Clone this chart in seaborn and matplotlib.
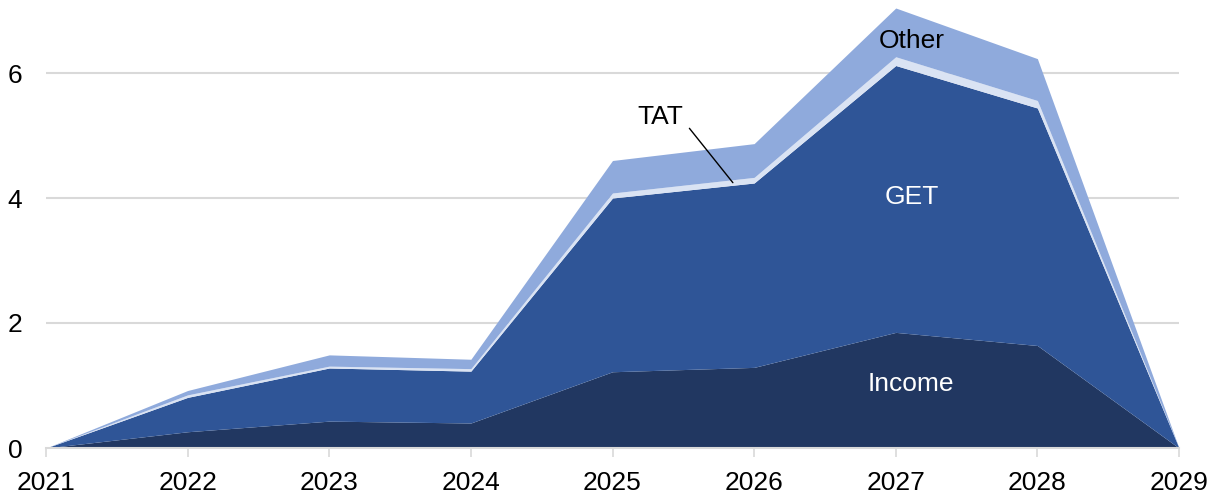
import matplotlib
matplotlib.use("Agg")
import matplotlib.pyplot as plt
import seaborn as sns
import numpy as np

years = [2021, 2022, 2023, 2024, 2025, 2026, 2027, 2028, 2029]
income = [0, 0.26, 0.43, 0.40, 1.22, 1.29, 1.85, 1.64, 0]
get_ = [0, 0.55, 0.85, 0.83, 2.78, 2.95, 4.27, 3.80, 0]
tat = [0, 0.04, 0.03, 0.04, 0.08, 0.09, 0.14, 0.12, 0]
other = [0, 0.07, 0.18, 0.15, 0.52, 0.54, 0.78, 0.67, 0]
series_names = ["Income", "GET", "TAT", "Other"]
colors = ["#213761", "#2F5597", "#DAE3F3", "#8FAADC"]
y_ticks = [0, 2, 4, 6]

sns.set_theme(style="white")
plt.rcParams["font.family"] = ["Liberation Sans", "DejaVu Sans"]

fig = plt.figure(figsize=(12.17, 5.01), dpi=100)
ax = fig.add_axes([46 / 1217, 1 - 448 / 501, (1179 - 46) / 1217, 446 / 501])

ax.stackplot(years, income, get_, tat, other, colors=colors, labels=series_names,
             linewidth=0, zorder=3)

ax.set_xlim(2021, 2029)
ax.set_ylim(0, 446 / 62.5)
ax.set_yticks(y_ticks)
ax.set_yticklabels([str(t) for t in y_ticks])
ax.set_xticks(years)
ax.set_xticklabels([str(y) for y in years])

for y in y_ticks[1:]:
    ax.axhline(y, color="#D9D9D9", lw=1.5, zorder=1)

for s in ["top", "right", "left"]:
    ax.spines[s].set_visible(False)
ax.spines["bottom"].set_color("#D9D9D9")
ax.spines["bottom"].set_linewidth(1.5)
ax.spines["bottom"].set_zorder(4)

fs = 19
ax.tick_params(axis="x", which="major", bottom=True, length=6.5, width=1.2,
               color="#D9D9D9", pad=10, labelsize=fs, labelcolor="black")
ax.tick_params(axis="y", left=False, length=0, pad=17, labelsize=fs, labelcolor="black")
ax.grid(False)

ax.text(2027.11, 6.51, "Other", ha="center", va="center", fontsize=fs, color="black", zorder=5)
ax.text(2027.11, 4.01, "GET", ha="center", va="center", fontsize=fs, color="white", zorder=5)
ax.text(2027.11, 1.02, "Income", ha="center", va="center", fontsize=fs, color="white", zorder=5)
ax.text(2025.34, 5.30, "TAT", ha="center", va="center", fontsize=fs, color="black", zorder=5)
ax.plot([2025.543, 2025.85], [5.115, 4.245], color="black", lw=1, zorder=5)

fig.savefig("out.png", dpi=100)
